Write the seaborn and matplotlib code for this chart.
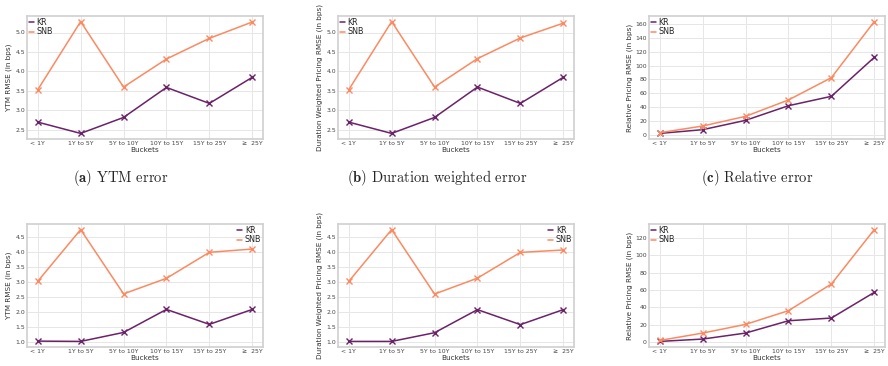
import numpy as np
import pandas as pd
import matplotlib
matplotlib.use("Agg")
import matplotlib.pyplot as plt
from matplotlib.lines import Line2D
import seaborn as sns

buckets = ["< 1Y", "1Y to 5Y", "5Y to 10Y", "10Y to 15Y", "15Y to 25Y", "\u2265  25Y"]
models = ["KR", "SNB"]

# top row
ytm_kr_top = [2.70, 2.41, 2.82, 3.59, 3.18, 3.85]
ytm_snb_top = [3.53, 5.28, 3.60, 4.32, 4.85, 5.27]
dur_kr_top = [2.70, 2.41, 2.82, 3.60, 3.18, 3.85]
dur_snb_top = [3.53, 5.28, 3.60, 4.33, 4.86, 5.24]
rel_kr_top = [1.9, 7.3, 20.8, 42.0, 55.6, 112.0]
rel_snb_top = [2.9, 12.6, 26.6, 50.3, 82.6, 163.8]

# bottom row
ytm_kr_bot = [1.03, 1.02, 1.32, 2.09, 1.59, 2.09]
ytm_snb_bot = [3.03, 4.76, 2.61, 3.13, 4.00, 4.11]
dur_kr_bot = [1.03, 1.03, 1.32, 2.09, 1.59, 2.09]
dur_snb_bot = [3.03, 4.76, 2.61, 3.14, 4.00, 4.08]
rel_kr_bot = [0.8, 3.5, 10.4, 24.6, 27.7, 57.3]
rel_snb_bot = [1.9, 10.4, 20.4, 36.2, 66.9, 129.6]

ylabels = ["YTM RMSE (in bps)",
           "Duration Weighted Pricing RMSE (in bps)",
           "Relative Pricing RMSE (in bps)"]
captions = [r"$\mathbf{(a)}$ YTM error",
            r"$\mathbf{(b)}$ Duration weighted error",
            r"$\mathbf{(c)}$ Relative error"]

sns.set_theme(style="whitegrid")
plt.rcParams["mathtext.fontset"] = "cm"
plt.rcParams["font.family"] = ["DejaVu Sans"]

palette = {"KR": "#6b2268", "SNB": "#fb8a62"}

W, H = 888, 366
fig = plt.figure(figsize=(W / 100, H / 100), dpi=100)

col_lefts = [27, 338, 649]
col_width = 236
row_tops = [16, 224]
row_height = 123

panels = [
    [(ytm_kr_top, ytm_snb_top), (dur_kr_top, dur_snb_top), (rel_kr_top, rel_snb_top)],
    [(ytm_kr_bot, ytm_snb_bot), (dur_kr_bot, dur_snb_bot), (rel_kr_bot, rel_snb_bot)],
]
legend_locs = [["upper left", "upper left", "upper left"],
               ["upper right", "upper right", "upper left"]]

for r in range(2):
    for c in range(3):
        kr, snb = panels[r][c]
        df = pd.DataFrame({
            "Buckets": buckets * 2,
            "value": list(kr) + list(snb),
            "model": ["KR"] * len(buckets) + ["SNB"] * len(buckets),
        })
        ax = fig.add_axes([col_lefts[c] / W, 1 - (row_tops[r] + row_height) / H,
                           col_width / W, row_height / H])
        sns.lineplot(data=df, x="Buckets", y="value", hue="model",
                     hue_order=models, palette=palette, marker="x",
                     markersize=4.5, markeredgewidth=1.0, linewidth=1.1,
                     ax=ax, sort=False, legend=False)
        for ln in ax.lines:
            ln.set_markeredgecolor(ln.get_color())
        ax.set_ylabel(ylabels[c], fontsize=5.2, labelpad=2, color="#333333")
        ax.set_xlabel("Buckets", fontsize=5.2, labelpad=0.5, color="#333333")
        ax.tick_params(axis="both", labelsize=4.4, pad=1.5, colors="#444444", length=0)
        ax.grid(True, color="#e6e6e6", linewidth=0.7)
        for s in ax.spines.values():
            s.set_color("#d0d0d0")
            s.set_linewidth(1.2)
        handles = [Line2D([], [], color=palette[m], linewidth=1.1) for m in models]
        ax.legend(handles, models, loc=legend_locs[r][c], fontsize=5.8,
                  frameon=False, handlelength=0.7, handletextpad=0.3,
                  labelspacing=0.1, borderaxespad=0.1, borderpad=0.1)

cap_centers = [121, 437, 757]
for c in range(3):
    fig.text(cap_centers[c] / W, 1 - 178 / H, captions[c], ha="center", va="center",
             fontsize=10.5, family="cmr10")

fig.savefig("out.png", dpi=100)
